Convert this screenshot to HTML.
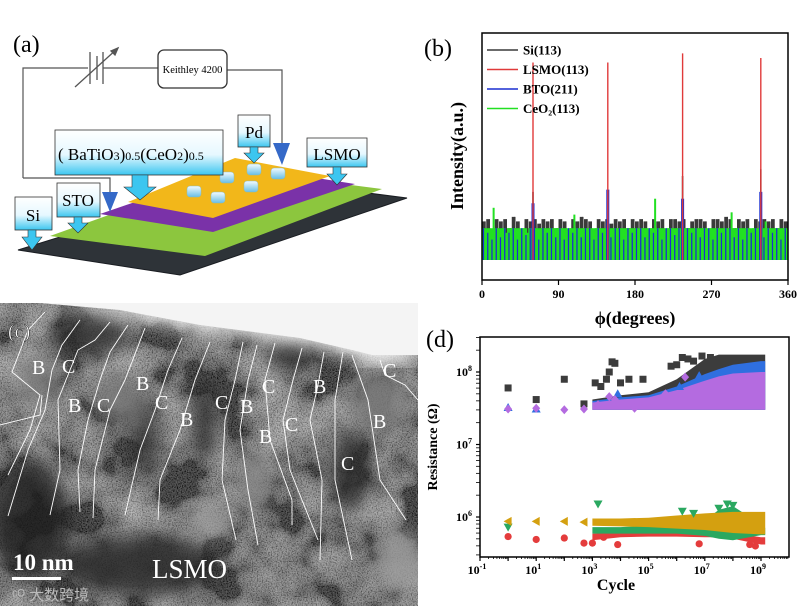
<!DOCTYPE html>
<html><head><meta charset="utf-8">
<style>
html,body{margin:0;padding:0;background:#fff;}
svg{display:block;font-family:"Liberation Serif","Noto Serif CJK SC",serif;}
.b{font-weight:bold;}
</style></head>
<body>
<svg id="fig" width="811" height="608" viewBox="0 0 811 608" xmlns="http://www.w3.org/2000/svg">
<defs>
<linearGradient id="cyan" x1="0" y1="0" x2="0" y2="1"><stop offset="0" stop-color="#ffffff"/><stop offset="0.55" stop-color="#e6f8ff"/><stop offset="1" stop-color="#3cc6f0"/></linearGradient>
<linearGradient id="pad" x1="0" y1="0" x2="0" y2="1"><stop offset="0" stop-color="#f4fbff"/><stop offset="1" stop-color="#68bfe6"/></linearGradient>
<filter id="tex" x="0" y="0" width="1" height="1"><feTurbulence type="fractalNoise" baseFrequency="0.8" numOctaves="2" seed="3"/><feColorMatrix type="matrix" values="1.6 0 0 0 -0.5  1.6 0 0 0 -0.5  1.6 0 0 0 -0.5  0 0 0 0 0.35"/></filter>
<filter id="tex2" x="0" y="0" width="1" height="1"><feTurbulence type="fractalNoise" baseFrequency="0.02" numOctaves="3" seed="7"/><feColorMatrix type="matrix" values="2 0 0 0 -0.75  2 0 0 0 -0.75  2 0 0 0 -0.75  0 0 0 0 0.6"/></filter>
<filter id="blur6"><feGaussianBlur stdDeviation="9"/></filter>
<clipPath id="cclip"><rect x="0" y="303" width="418" height="303"/></clipPath>
</defs>

<!-- ============ PANEL A ============ -->
<g>
<text x="13" y="52" font-size="24">(a)</text>
<polyline points="23,178 23,68 88,68" fill="none" stroke="#555" stroke-width="1.2"/>
<polyline points="103,68 158,68" fill="none" stroke="#555" stroke-width="1.2"/>
<polyline points="227,70 282,70 282,145" fill="none" stroke="#555" stroke-width="1.2"/>
<polyline points="23,178 110,178 110,192" fill="none" stroke="#555" stroke-width="1.2"/>
<g stroke="#555" stroke-width="1.3">
<line x1="90" y1="52" x2="90" y2="84"/><line x1="97" y1="56" x2="97" y2="80"/><line x1="103" y1="52" x2="103" y2="84"/>
<line x1="75" y1="87" x2="118" y2="48"/><polygon points="118,48 111,51 115,55" fill="#555"/>
</g>
<rect x="158" y="50" width="69" height="38" rx="6" fill="#fff" stroke="#333" stroke-width="1.3"/>
<text x="192.5" y="73" font-size="10.5" text-anchor="middle">Keithley 4200</text>
<polygon points="18,250 180,275 407,198 250,178" fill="#2e3338" stroke="#1a1d22"/>
<polygon points="50,236 205,256 382,189 235,170" fill="#8cc63e"/>
<polygon points="100,214 213,232 355,184 240,166" fill="#7a32a8"/>
<polygon points="128,202 213,218 330,176 235,158" fill="#f2b71a"/>
<g stroke="#8bb" stroke-width="0.5" fill="url(#pad)">
<rect x="187" y="186" width="14" height="11" rx="3"/><rect x="211" y="192" width="14" height="11" rx="3"/>
<rect x="220" y="172" width="14" height="11" rx="3"/><rect x="244" y="181" width="14" height="11" rx="3"/>
<rect x="247" y="164" width="14" height="11" rx="3"/><rect x="271" y="168" width="14" height="11" rx="3"/>
</g>
<polygon points="102,192 118,192 110,212" fill="#3569c8"/>
<polygon points="273,143 290,143 282,165" fill="#3569c8"/>
<g>
<rect x="55" y="130" width="168" height="45" fill="url(#cyan)" stroke="#333" stroke-width="0.8"/>
<polygon points="132,175 148,175 148,187 156,187 140,200 124,187 132,187" fill="#3cc6f0" stroke="#333" stroke-width="0.6"/>
<text x="58" y="160" font-size="17">( BaTiO<tspan font-size="12">3</tspan>)<tspan font-size="12">0.5</tspan>(CeO<tspan font-size="12">2</tspan>)<tspan font-size="12">0.5</tspan></text>
</g>
<g>
<rect x="238" y="115" width="32" height="32" fill="url(#cyan)" stroke="#333" stroke-width="0.8"/>
<polygon points="250,147 258,147 258,153 264,153 254,163 244,153 250,153" fill="#3cc6f0" stroke="#333" stroke-width="0.6"/>
<text x="254" y="138" font-size="17" text-anchor="middle">Pd</text>
</g>
<g>
<rect x="307" y="138" width="60" height="29" fill="url(#cyan)" stroke="#333" stroke-width="0.8"/>
<polygon points="333,167 341,167 341,174 347,174 337,185 327,174 333,174" fill="#3cc6f0" stroke="#333" stroke-width="0.6"/>
<text x="337" y="160" font-size="17" text-anchor="middle">LSMO</text>
</g>
<g>
<rect x="57" y="183" width="43" height="34" fill="url(#cyan)" stroke="#333" stroke-width="0.8"/>
<polygon points="74,217 82,217 82,223 88,223 78,233 68,223 74,223" fill="#3cc6f0" stroke="#333" stroke-width="0.6"/>
<text x="78" y="206" font-size="17" text-anchor="middle">STO</text>
</g>
<g>
<rect x="15" y="197" width="37" height="33" fill="url(#cyan)" stroke="#333" stroke-width="0.8"/>
<polygon points="28,230 36,230 36,237 42,237 32,250 22,237 28,237" fill="#3cc6f0" stroke="#333" stroke-width="0.6"/>
<text x="33" y="221" font-size="17" text-anchor="middle">Si</text>
</g>
</g>

<!-- ============ PANEL C (TEM) ============ -->
<g clip-path="url(#cclip)">
<rect x="0" y="303" width="418" height="303" fill="#4a4a4a"/>
<rect x="0" y="303" width="418" height="303" filter="url(#tex2)"/>
<rect x="0" y="303" width="418" height="303" filter="url(#tex)"/>
<g filter="url(#blur6)" opacity="0.8">
<ellipse cx="30" cy="520" rx="40" ry="60" fill="#1c1c1c"/>
<ellipse cx="140" cy="565" rx="80" ry="30" fill="#222"/>
<ellipse cx="90" cy="335" rx="40" ry="20" fill="#2a2a2a"/>
<ellipse cx="205" cy="420" rx="12" ry="40" fill="#222"/>
<ellipse cx="145" cy="435" rx="12" ry="40" fill="#282828"/>
<ellipse cx="290" cy="355" rx="25" ry="15" fill="#222"/>
<ellipse cx="350" cy="470" rx="20" ry="40" fill="#2a2a2a"/>
<ellipse cx="255" cy="480" rx="15" ry="30" fill="#8a8a8a"/>
<ellipse cx="210" cy="520" rx="20" ry="15" fill="#9a9a9a"/>
<ellipse cx="400" cy="560" rx="25" ry="30" fill="#9a9a9a"/>
<ellipse cx="40" cy="380" rx="25" ry="25" fill="#808080"/>
<ellipse cx="120" cy="400" rx="25" ry="25" fill="#777"/>
<ellipse cx="380" cy="400" rx="30" ry="30" fill="#858585"/>
</g>
<polygon points="25,303 418,303 418,362 372,362 352,356 300,343 200,330 120,315" fill="#f1f1f1" filter="url(#blur6)"/>
<polygon points="40,303 418,303 418,355 372,355 352,350 300,338 200,325 120,310" fill="#f4f4f4"/>
<g fill="none" stroke="#fff" stroke-width="0.9">
<polyline points="45,312 28,330 12,372 40,395 30,430 8,475"/>
<polyline points="0,425 40,415 42,395"/>
<polyline points="80,320 62,345 52,370 45,410 28,450 8,516"/>
<polyline points="110,322 95,340 78,350 58,400 60,470 50,515"/>
<polyline points="128,325 110,352 100,380 88,420 78,470 80,512"/>
<polyline points="145,328 125,380 110,410 95,470 93,518"/>
<polyline points="182,338 168,370 155,410 140,450 125,515"/>
<polyline points="210,342 195,380 180,430 160,480 158,520"/>
<polyline points="243,342 235,380 225,420 222,480 236,540"/>
<polyline points="257,345 248,380 240,430 248,490 258,545"/>
<polyline points="275,343 265,380 270,440 292,500 292,525"/>
<polyline points="302,348 293,380 283,420 290,470 318,540"/>
<polyline points="324,352 318,385 310,420 322,480 320,560"/>
<polyline points="343,352 335,400 335,480 352,560"/>
<polyline points="352,355 368,400 380,480 406,520"/>
<polyline points="380,360 385,375 405,385 418,400"/>
</g>
<g fill="#fff" font-size="20">
<text x="32" y="374">B</text><text x="62" y="373">C</text>
<text x="68" y="412">B</text><text x="97" y="412">C</text>
<text x="136" y="390">B</text><text x="155" y="409">C</text>
<text x="180" y="426">B</text><text x="215" y="409">C</text>
<text x="240" y="413">B</text><text x="262" y="393">C</text>
<text x="259" y="443">B</text><text x="285" y="431">C</text>
<text x="313" y="393">B</text><text x="383" y="377">C</text>
<text x="373" y="428">B</text><text x="341" y="470">C</text>
</g>
<text x="8" y="338" font-size="20" fill="#fff" stroke="#000" stroke-width="0.4">(c)</text>
<text x="13" y="570" font-size="23" class="b" fill="#fff">10 nm</text>
<rect x="12" y="577" width="49" height="3" fill="#fff"/>
<text x="152" y="578" font-size="27" fill="#fff">LSMO</text>
<text x="12" y="600" font-size="15" fill="#bbb" font-family="'Liberation Sans','Noto Sans CJK SC',sans-serif">ᶜᴼ 大数跨境</text>
</g>

<!-- ============ PANEL B ============ -->
<g id="pb">
<text x="424" y="56" font-size="24">(b)</text>
<g id="pbMarks"></g>
<rect x="482" y="33" width="306" height="247" fill="none" stroke="#000" stroke-width="1.5"/>
<g id="pbTicks"></g>
<text x="635" y="324" font-size="18" class="b" text-anchor="middle">ϕ(degrees)</text>
<text transform="translate(463,156) rotate(-90)" font-size="18" class="b" text-anchor="middle">Intensity(a.u.)</text>
<g id="pbLegend" font-size="13" class="b"></g>
</g>

<!-- ============ PANEL D ============ -->
<g id="pd">
<text x="426" y="347" font-size="24">(d)</text>
<g id="pdMarks"></g>
<rect x="480" y="337" width="309" height="220" fill="none" stroke="#000" stroke-width="1.5"/>
<g id="pdTicks"></g>
<text x="616" y="590" font-size="16" class="b" text-anchor="middle">Cycle</text>
<text transform="translate(437,447) rotate(-90)" font-size="14" class="b" text-anchor="middle">Resistance (Ω)</text>
</g>
</svg>
<script>
// ---------- Panel B data ----------
const phiTicks = [0, 90, 180, 270, 360];
const peakPhi = [60, 148, 236, 328];
const lsmoPeaks = [87, 87, 91, 89];
const btoPeaks = [25, 31, 27, 30];
const siPeaks = [30, 30, 37, 40];
const siNoise = [17,18,13,18,17,18,14,19,17,13,18,17,18,16,18,17,18,14,18,17,12,18,17,19,18,17,13,18,17,18,16,18,17,18,14,18,17,18,17,12,18,17,18,13,18,18,17,18,14,17,18,18,17,13,18,18,17,19,18,14,18,17,18,13,18,17,18,17,18,14,18,17];
const greenNoise = [14,14,23,14,14,12,14,14,14,14,12,14,14,14,14,14,14,14,14,14,14,20,14,14,14,14,14,14,14,12,14,14,14,14,14,14,14,14,14,14,27,14,14,14,14,14,14,14,14,14,14,14,14,14,14,14,14,14,21,14,14,14,14,14,14,14,17,14,14,14,14,14];
const blueNoise = [14,12,9,14,10,14,12,14,9,14,11,14,14,9,14,12,14,10,14,9,14,12,14,10,14,14,9,14,12,14,10,14,14,9,14,12,14,14,10,14,12,14,9,14,14,11,14,9,14,12,14,10,14,14,9,14,12,14,14,10,14,9,14,12,14,14,10,14,12,14,9,14];
const legendNames = ["Si(113)", "LSMO(113)", "BTO(211)", "CeO\u2082(113)"];
const legendColors = ["#3a3a3a", "#e03a3a", "#1a2fd0", "#22e022"];

// ---------- Panel D data (log10 values) ----------
const decadeTicks = [-1, 1, 3, 5, 7, 9];
const yDecades = [6, 7, 8];
const grayX = [0, 1, 2, 2.7, 3.1, 3.3, 3.5, 3.6, 3.7, 3.8, 4.0, 4.2, 4.3, 4.6, 4.8, 5.0, 5.3, 5.6, 5.8, 6.0, 6.2, 6.4, 6.6, 6.9, 7.2];
const grayY = [7.78, 7.62, 7.9, 7.56, 7.85, 7.8, 7.9, 8.0, 8.14, 8.12, 7.85, 7.6, 7.9, 7.55, 7.9, 7.58, 7.62, 7.72, 8.08, 8.1, 8.2, 8.18, 8.15, 8.22, 8.2];
const purpleX = [0, 1, 2, 2.7, 3.2, 3.6, 3.8, 4.5, 5.6, 6.3];
const purpleY = [7.49, 7.5, 7.48, 7.49, 7.55, 7.66, 7.62, 7.5, 7.7, 7.93];
const blueX = [0, 1, 3.9, 6.1, 6.8];
const blueY = [7.51, 7.49, 7.7, 7.8, 7.95];
const bandX = [3, 4, 5, 6, 7, 7.5, 8, 9, 9.15];
const purpleTop = [7.58, 7.62, 7.65, 7.75, 7.88, 7.94, 7.98, 8.0, 8.0];
const blueTop = [7.6, 7.65, 7.68, 7.8, 7.97, 8.04, 8.1, 8.15, 8.15];
const grayTop = [7.62, 7.68, 7.72, 7.9, 8.18, 8.24, 8.24, 8.24, 8.24];
const upperBottom = [7.48, 7.48, 7.48, 7.48, 7.48, 7.48, 7.48, 7.48, 7.48];
const goldX = [0, 1, 2, 2.7];
const goldY = [5.94, 5.94, 5.94, 5.93];
const goldTop = [5.98, 5.98, 5.99, 6.02, 6.05, 6.06, 6.07, 6.07, 6.07];
const goldBottom = [5.88, 5.87, 5.86, 5.84, 5.82, 5.8, 5.78, 5.76, 5.76];
const greenX = [0, 3.2, 6.2, 6.6, 7.5, 7.8, 8.0];
const greenY = [5.86, 6.18, 6.08, 6.05, 6.12, 6.18, 6.16];
const greenTop = [5.86, 5.86, 5.88, 5.9, 5.95, 6.1, 6.15, 5.9, 5.85];
const greenBottom = [5.77, 5.77, 5.77, 5.77, 5.74, 5.7, 5.68, 5.75, 5.75];
const redX = [0, 1, 2, 2.7, 3.0, 3.4, 3.9, 6.8, 8.8, 8.6];
const redY = [5.73, 5.69, 5.71, 5.64, 5.64, 5.72, 5.62, 5.63, 5.6, 5.62];
const redTop = [5.77, 5.78, 5.78, 5.78, 5.78, 5.78, 5.78, 5.72, 5.72];
const redBottom = [5.68, 5.72, 5.73, 5.73, 5.72, 5.72, 5.7, 5.62, 5.62];

const NS = "http://www.w3.org/2000/svg";
function mk(tag, attrs, parent) {
  const e = document.createElementNS(NS, tag);
  for (const k in attrs) e.setAttribute(k, attrs[k]);
  parent.appendChild(e);
  return e;
}
const bx = p => 482 + p * (306 / 360);
const by = v => 260 - v * 2.27;
const pbM = document.getElementById("pbMarks");
const pbT = document.getElementById("pbTicks");
function noiseBars(arr, color, name) {
  arr.forEach((v, i) => {
    const r = mk("rect", {x: bx(i * 5), y: by(v), width: 306 / 72 * 0.75, height: by(0) - by(v), fill: color}, pbM);
    
    
  });
}
noiseBars(siNoise, "#3a3a3a", "si-noise-bar");
const gband = mk("rect", {x: 482, y: by(14), width: 306, height: by(0) - by(14), fill: "#22e022"}, pbM);


blueNoise.forEach((v, i) => {
  const r = mk("rect", {x: bx(i * 5 + 1), y: by(v), width: 1.5, height: by(0) - by(v), fill: "#1a2fd0"}, pbM);
  
  
});
siNoise.forEach((v, i) => {
  const r = mk("rect", {x: bx(i * 5 + 3), y: by(v), width: 1.2, height: by(0) - by(v), fill: "#3a3a3a"}, pbM);
  
  
});
greenNoise.forEach((v, i) => {
  const r = mk("rect", {x: bx(i * 5 + 2.5), y: by(v), width: 2, height: by(0) - by(v), fill: "#22e022"}, pbM);
  
  
});
function peaks(vals, color, w, name) {
  vals.forEach((v, i) => {
    const l = mk("line", {x1: bx(peakPhi[i]), x2: bx(peakPhi[i]), y1: by(0), y2: by(v), stroke: color, "stroke-width": w}, pbM);
    
    
  });
}
peaks(siPeaks, "#3a3a3a", 1.6, "si-peak");
peaks(btoPeaks, "#1a2fd0", 3, "bto-peak");
peaks(lsmoPeaks, "#e03a3a", 1.4, "lsmo-peak");
phiTicks.forEach(t => {
  mk("line", {x1: bx(t), x2: bx(t), y1: 280, y2: 285, stroke: "#000", "stroke-width": 1.2}, pbT);
  const tx = mk("text", {x: bx(t), y: 298, "font-size": 12, "text-anchor": "middle", class: "b"}, pbT);
  tx.textContent = t;
  
  
});
const pbL = document.getElementById("pbLegend");
legendNames.forEach((n, i) => {
  const y = 50 + i * 19.5;
  mk("line", {x1: 487, x2: 518, y1: y, y2: y, stroke: legendColors[i], "stroke-width": 1.6}, pbL);
  const t = mk("text", {x: 523, y: y + 4.5}, pbL);
  t.textContent = n;
  
  
});
const dx = l => 480 + (l + 1) * 28.1;
const dy = l => 372 + (8 - l) * 72.5;
const pdM = document.getElementById("pdMarks");
const pdT = document.getElementById("pdTicks");
function band(top, bot, color, name) {
  let pts = bandX.map((x, i) => dx(x) + "," + dy(top[i]));
  pts = pts.concat(bandX.slice().reverse().map((x, j) => dx(x) + "," + dy(bot[bot.length - 1 - j])));
  const p = mk("polygon", {points: pts.join(" "), fill: color}, pdM);
  
  
}
function pts(xs, ys, color, shape, name) {
  xs.forEach((x, i) => {
    const cx = dx(x), cy = dy(ys[i]);
    let e;
    if (shape === "sq") e = mk("rect", {x: cx - 3.5, y: cy - 3.5, width: 7, height: 7, fill: color}, pdM);
    else if (shape === "dia") e = mk("polygon", {points: `${cx},${cy-4.5} ${cx+4},${cy} ${cx},${cy+4.5} ${cx-4},${cy}`, fill: color}, pdM);
    else if (shape === "tri") e = mk("polygon", {points: `${cx},${cy-4.5} ${cx+4.5},${cy+3.5} ${cx-4.5},${cy+3.5}`, fill: color}, pdM);
    else if (shape === "dtri") e = mk("polygon", {points: `${cx},${cy+4.5} ${cx+4.5},${cy-3.5} ${cx-4.5},${cy-3.5}`, fill: color}, pdM);
    else if (shape === "ltri") e = mk("polygon", {points: `${cx-4.5},${cy} ${cx+3.5},${cy-4.5} ${cx+3.5},${cy+4.5}`, fill: color}, pdM);
    else e = mk("circle", {cx: cx, cy: cy, r: 3.6, fill: color}, pdM);
    
    
  });
}
band(grayTop, upperBottom, "#3c3c3c", "hrs-gray-band");
pts(grayX, grayY, "#3c3c3c", "sq", "hrs-gray-point");
band(blueTop, upperBottom, "#2f6fe0", "hrs-blue-band");
band(purpleTop, upperBottom, "#b46be0", "hrs-purple-band");
pts(blueX, blueY, "#2f6fe0", "tri", "hrs-blue-point");
pts(purpleX, purpleY, "#b46be0", "dia", "hrs-purple-point");
band(redTop, redBottom, "#e43c3c", "lrs-red-band");
band(greenTop, greenBottom, "#2aa860", "lrs-green-band");
band(goldTop, goldBottom, "#d4a010", "lrs-gold-band");
pts(redX, redY, "#e43c3c", "circ", "lrs-red-point");
pts(greenX, greenY, "#2aa860", "dtri", "lrs-green-point");
pts(goldX, goldY, "#d4a010", "ltri", "lrs-gold-point");
for (let d = -1; d <= 9; d++) {
  mk("line", {x1: dx(d), x2: dx(d), y1: 557, y2: 561, stroke: "#000", "stroke-width": 1.2}, pdT);
  for (let m = 2; m < 10; m++) {
    const xm = dx(d + Math.log10(m));
    if (xm < 789) mk("line", {x1: xm, x2: xm, y1: 557, y2: 559, stroke: "#000", "stroke-width": 0.8}, pdT);
  }
}
decadeTicks.forEach(d => {
  const t = mk("text", {x: dx(d) - 3, y: 574, "font-size": 12, "text-anchor": "middle", class: "b"}, pdT);
  t.innerHTML = '10<tspan dy="-5" font-size="8">' + d + '</tspan>';
  
  
});
for (let d = 5; d <= 8; d++) {
  for (let m = 1; m < 10; m++) {
    const ym = dy(d + Math.log10(m));
    if (ym > 337 && ym < 557) mk("line", {x1: 476, x2: 480, y1: ym, y2: ym, stroke: "#000", "stroke-width": m === 1 ? 1.2 : 0.8}, pdT);
  }
}
yDecades.forEach(d => {
  const t = mk("text", {x: 472, y: dy(d) + 4, "font-size": 12, "text-anchor": "end", class: "b"}, pdT);
  t.innerHTML = '10<tspan dy="-5" font-size="8">' + d + '</tspan>';
  
  
});
</script>
</body></html>
